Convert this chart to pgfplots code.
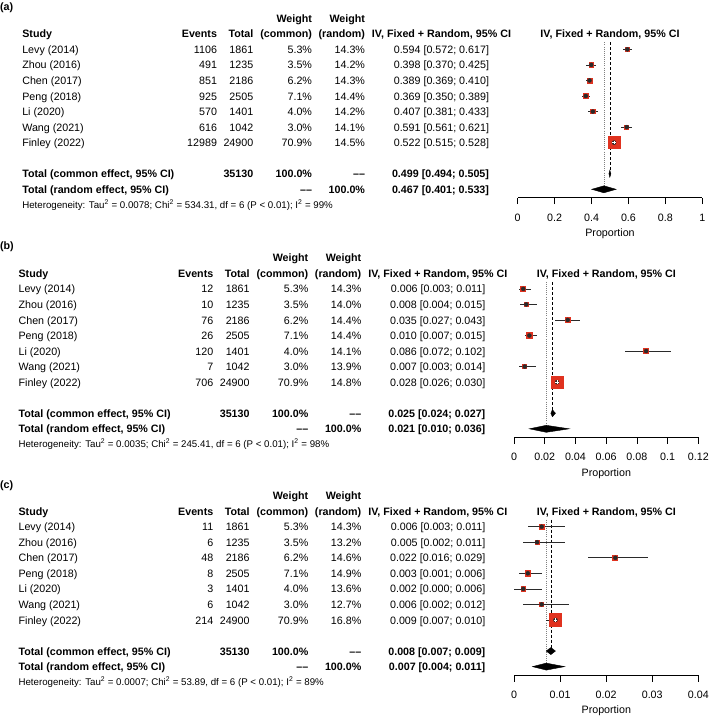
\documentclass[border=0pt]{standalone}
\usepackage{fontspec}
\setmainfont{Liberation Sans}
\usepackage{pgfplots}
\usepackage{pgfplotstable}
\pgfplotsset{compat=1.18}

\definecolor{sqred}{HTML}{E0321F}
\definecolor{cigray}{HTML}{2A2A2A}

% study rows: row, estimate, lower, upper, common weight
\pgfplotstableread{
row est lo hi w
-1 0.594 0.572 0.617 5.3
-2 0.398 0.370 0.425 3.5
-3 0.389 0.369 0.410 6.2
-4 0.369 0.350 0.389 7.1
-5 0.407 0.381 0.433 4.0
-6 0.591 0.561 0.621 3.0
-7 0.522 0.515 0.528 70.9
}\studA
\pgfplotstableread{
row est lo hi w
-1 0.006 0.003 0.011 5.3
-2 0.008 0.004 0.015 3.5
-3 0.035 0.027 0.043 6.2
-4 0.010 0.007 0.015 7.1
-5 0.086 0.072 0.102 4.0
-6 0.007 0.003 0.014 3.0
-7 0.028 0.026 0.030 70.9
}\studB
\pgfplotstableread{
row est lo hi w
-1 0.006 0.003 0.011 5.3
-2 0.005 0.002 0.011 3.5
-3 0.022 0.016 0.029 6.2
-4 0.003 0.001 0.006 7.1
-5 0.002 0.000 0.006 4.0
-6 0.006 0.002 0.012 3.0
-7 0.009 0.007 0.010 70.9
}\studC

\pgfplotsset{
  forest/.style={
    anchor=south west, y=15.55pt, ymin=-10.54, ymax=0,
    axis x line*=bottom, axis y line=none, clip=false,
    tick align=outside, major tick length=6.5pt,
    tick style={black, line width=0.6pt},
    axis line style={black, line width=0.6pt},
    tick label style={font=\fontsize{10.7}{12}\selectfont, inner sep=0pt, anchor=north, yshift=-9.5pt},
    scaled x ticks=false,
  },
}

% table, common est/lo/hi, random est/lo/hi, white segment lo/hi
\newcommand\forestbody[9]{%
  \addplot[black, dash pattern=on 3pt off 2pt, line width=0.6pt] coordinates {(#2,-0.55) (#2,-8.8)};
  \addplot[gray, dash pattern=on 0.7pt off 1.4pt, line width=0.7pt] coordinates {(#5,-0.55) (#5,-9.8)};
  \addplot[scatter, only marks, mark=square*, mark options={line width=0.8pt},
    scatter/use mapped color={draw=sqred, fill=sqred},
    visualization depends on={5.1*sqrt(\thisrow{w}/70.9)+1.0 \as \msz},
    scatter/@pre marker code/.append style={/tikz/mark size=\msz}]
    table[x=est, y=row] {#1};
  \addplot[cigray, only marks, mark=none,
    error bars/.cd, x dir=both, x explicit, error mark=none,
    error bar style={cigray, line width=0.7pt}]
    table[x=est, y=row, x error plus expr=\thisrow{hi}-\thisrow{est},
          x error minus expr=\thisrow{est}-\thisrow{lo}] {#1};
  \addplot[white, line width=0.8pt] coordinates {(#8,-7) (#9,-7)};
  \addplot[white, only marks, mark=+, mark size=1.7pt, mark options={line width=0.8pt}]
    table[x=est, y=row, restrict y to domain=-7.5:-6.5] {#1};
  \addplot[fill=black, draw=black, line width=0.4pt] coordinates {(#3,-9) (#2,-8.775) (#4,-9) (#2,-9.225)} -- cycle;
  \addplot[fill=black, draw=black, line width=0.4pt] coordinates {(#6,-10) (#5,-9.775) (#7,-10) (#5,-10.225)} -- cycle;
}

\newcommand\rowy[1]{-(37.85+15.55*(#1))}

\newcommand\hdr{%
  \node[anchor=base east, font=\bfseries] at (312,-22.3) {Weight};
  \node[anchor=base east, font=\bfseries] at (365,-22.3) {Weight};
  \node[anchor=base west, font=\bfseries] at (22.3,-37.85) {Study};
  \node[anchor=base east, font=\bfseries] at (217,-37.85) {Events};
  \node[anchor=base east, font=\bfseries] at (253.3,-37.85) {Total};
  \node[anchor=base east, font=\bfseries] at (312,-37.85) {(common)};
  \node[anchor=base east, font=\bfseries] at (365,-37.85) {(random)};
  \node[anchor=base, font=\bfseries] at (441.5,-37.85) {IV, Fixed + Random, 95\% CI};
  \node[anchor=base, font=\bfseries] at (610,-37.85) {IV, Fixed + Random, 95\% CI};
  \node[anchor=base] at (610,-236.5) {Proportion};
}

\newcommand\srow[7]{%
  \node[anchor=base west] at (22.3,{\rowy{#1}}) {#2};
  \node[anchor=base east] at (217,{\rowy{#1}}) {#3};
  \node[anchor=base east] at (253.3,{\rowy{#1}}) {#4};
  \node[anchor=base east] at (312,{\rowy{#1}}) {#5};
  \node[anchor=base east] at (365,{\rowy{#1}}) {#6};
  \node[anchor=base east] at (489,{\rowy{#1}}) {#7};
}

\newcommand\totals[2]{%
  \node[anchor=base west, font=\bfseries] at (22.3,{\rowy{9}}) {Total (common effect, 95\% CI)};
  \node[anchor=base east, font=\bfseries] at (253.3,{\rowy{9}}) {35130};
  \node[anchor=base east, font=\bfseries] at (312,{\rowy{9}}) {100.0\%};
  \node[anchor=base east, font=\bfseries] at (365,{\rowy{9}}) {\textendash\textendash};
  \node[anchor=base east, font=\bfseries] at (489,{\rowy{9}}) {#1};
  \node[anchor=base west, font=\bfseries] at (22.3,{\rowy{10}}) {Total (random effect, 95\% CI)};
  \node[anchor=base east, font=\bfseries] at (312,{\rowy{10}}) {\textendash\textendash};
  \node[anchor=base east, font=\bfseries] at (365,{\rowy{10}}) {100.0\%};
  \node[anchor=base east, font=\bfseries] at (489,{\rowy{10}}) {#2};
}

\newcommand\het[1]{%
  \node[anchor=base west, font=\fontsize{9.7}{11}\selectfont] at (22.3,-208) {#1};
}

\begin{document}
\fontsize{10.7}{12.8}\selectfont
\begin{tikzpicture}[x=1pt, y=1pt, every node/.style={inner sep=0pt, outer sep=0pt}]
\useasboundingbox (0,0) rectangle (709,-716);
\fill[white] (0,0) rectangle (709,-716);

% ---- panel (a)
\node[anchor=base west, font=\bfseries] at (0,-10.3) {(a)};
\begin{scope}
  \hdr
  \srow{1}{Levy (2014)}{1106}{1861}{5.3\%}{14.3\%}{0.594 [0.572; 0.617]}
  \srow{2}{Zhou (2016)}{491}{1235}{3.5\%}{14.2\%}{0.398 [0.370; 0.425]}
  \srow{3}{Chen (2017)}{851}{2186}{6.2\%}{14.3\%}{0.389 [0.369; 0.410]}
  \srow{4}{Peng (2018)}{925}{2505}{7.1\%}{14.4\%}{0.369 [0.350; 0.389]}
  \srow{5}{Li (2020)}{570}{1401}{4.0\%}{14.2\%}{0.407 [0.381; 0.433]}
  \srow{6}{Wang (2021)}{616}{1042}{3.0\%}{14.1\%}{0.591 [0.561; 0.621]}
  \srow{7}{Finley (2022)}{12989}{24900}{70.9\%}{14.5\%}{0.522 [0.515; 0.528]}
  \totals{0.499 [0.494; 0.505]}{0.467 [0.401; 0.533]}
  \het{Heterogeneity: Tau\textsuperscript{2} = 0.0078; Chi\textsuperscript{2} = 534.31, df = 6 (P < 0.01); I\textsuperscript{2} = 99\%}
\end{scope}
\begin{axis}[forest, at={(517.7pt,-197.7pt)}, x=184.6pt, xmin=0, xmax=1,
  xtick={0,0.2,0.4,0.6,0.8,1}, xticklabels={0,0.2,0.4,0.6,0.8,1}]
  \forestbody{\studA}{0.499}{0.494}{0.505}{0.467}{0.401}{0.533}{0.515}{0.528}
\end{axis}

% ---- panel (b)
\node[anchor=base west, font=\bfseries] at (0,-249.9) {(b)};
\begin{scope}[shift={(-3.7,-239.5)}]
  \hdr
  \srow{1}{Levy (2014)}{12}{1861}{5.3\%}{14.3\%}{0.006 [0.003; 0.011]}
  \srow{2}{Zhou (2016)}{10}{1235}{3.5\%}{14.0\%}{0.008 [0.004; 0.015]}
  \srow{3}{Chen (2017)}{76}{2186}{6.2\%}{14.4\%}{0.035 [0.027; 0.043]}
  \srow{4}{Peng (2018)}{26}{2505}{7.1\%}{14.4\%}{0.010 [0.007; 0.015]}
  \srow{5}{Li (2020)}{120}{1401}{4.0\%}{14.1\%}{0.086 [0.072; 0.102]}
  \srow{6}{Wang (2021)}{7}{1042}{3.0\%}{13.9\%}{0.007 [0.003; 0.014]}
  \srow{7}{Finley (2022)}{706}{24900}{70.9\%}{14.8\%}{0.028 [0.026; 0.030]}
  \totals{0.025 [0.024; 0.027]}{0.021 [0.010; 0.036]}
  \het{Heterogeneity: Tau\textsuperscript{2} = 0.0035; Chi\textsuperscript{2} = 245.41, df = 6 (P < 0.01); I\textsuperscript{2} = 98\%}
\end{scope}
\begin{axis}[forest, at={(514pt,-437.2pt)}, x=1535.8pt, xmin=0, xmax=0.12,
  xtick={0,0.02,0.04,0.06,0.08,0.1,0.12}, xticklabels={0,0.02,0.04,0.06,0.08,0.1,0.12}]
  \forestbody{\studB}{0.025}{0.024}{0.027}{0.021}{0.010}{0.036}{0.026}{0.030}
\end{axis}

% ---- panel (c)
\node[anchor=base west, font=\bfseries] at (0,-488) {(c)};
\begin{scope}[shift={(-3.7,-477.3)}]
  \hdr
  \srow{1}{Levy (2014)}{11}{1861}{5.3\%}{14.3\%}{0.006 [0.003; 0.011]}
  \srow{2}{Zhou (2016)}{6}{1235}{3.5\%}{13.2\%}{0.005 [0.002; 0.011]}
  \srow{3}{Chen (2017)}{48}{2186}{6.2\%}{14.6\%}{0.022 [0.016; 0.029]}
  \srow{4}{Peng (2018)}{8}{2505}{7.1\%}{14.9\%}{0.003 [0.001; 0.006]}
  \srow{5}{Li (2020)}{3}{1401}{4.0\%}{13.6\%}{0.002 [0.000; 0.006]}
  \srow{6}{Wang (2021)}{6}{1042}{3.0\%}{12.7\%}{0.006 [0.002; 0.012]}
  \srow{7}{Finley (2022)}{214}{24900}{70.9\%}{16.8\%}{0.009 [0.007; 0.010]}
  \totals{0.008 [0.007; 0.009]}{0.007 [0.004; 0.011]}
  \het{Heterogeneity: Tau\textsuperscript{2} = 0.0007; Chi\textsuperscript{2} = 53.89, df = 6 (P < 0.01); I\textsuperscript{2} = 89\%}
\end{scope}
\begin{axis}[forest, at={(514pt,-675pt)}, x=4607.5pt, xmin=0, xmax=0.04,
  xtick={0,0.01,0.02,0.03,0.04}, xticklabels={0,0.01,0.02,0.03,0.04}]
  \forestbody{\studC}{0.008}{0.007}{0.009}{0.007}{0.004}{0.011}{0.00759}{0.010}
\end{axis}
\end{tikzpicture}
\end{document}
